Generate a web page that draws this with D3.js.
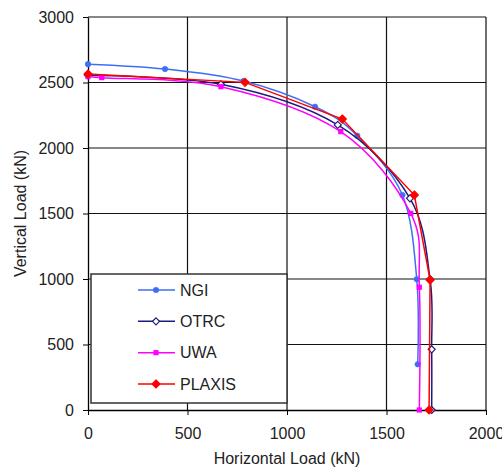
<!DOCTYPE html>
<html>
<head>
<meta charset="utf-8">
<script src="https://cdn.jsdelivr.net/npm/d3@7"></script>
<style>
  html, body { margin: 0; padding: 0; background: #fff; }
  svg { display: block; font-family: "Liberation Sans", Arial, sans-serif; }
</style>
</head>
<body>
<svg id="chart" width="502" height="467"></svg>
<script>
// ---- data ----
const seriesNames = ["NGI", "OTRC", "UWA", "PLAXIS"];
const ngiH  = [0, 387, 781, 1141, 1353, 1580, 1652, 1657];
const ngiV  = [2640, 2603, 2511, 2315, 2094, 1641, 998, 349];
const otrcH = [0, 668, 1255, 1618, 1719, 1727, 1727];
const otrcV = [2555, 2486, 2176, 1616, 998, 463, 0];
const uwaH  = [0, 69, 668, 1270, 1622, 1665, 1665];
const uwaV  = [2545, 2537, 2468, 2125, 1501, 937, 0];
const plaxisH = [0, 789, 1278, 1640, 1719, 1714];
const plaxisV = [2565, 2501, 2221, 1641, 992, 0];
const xTicks = [0, 500, 1000, 1500, 2000];
const yTicks = [0, 500, 1000, 1500, 2000, 2500, 3000];
const xTitle = "Horizontal Load (kN)";
const yTitle = "Vertical Load (kN)";

// ---- styles ----
const styles = {
  NGI:    { color: "#3d6ef5", marker: "circle",  fill: true,  smooth: true },
  OTRC:   { color: "#1c1c7e", marker: "diamond", fill: false, smooth: true },
  UWA:    { color: "#ff00ff", marker: "square",  fill: true,  smooth: true },
  PLAXIS: { color: "#ff0000", marker: "diamond", fill: true,  smooth: false }
};
const seriesData = {
  NGI: ngiH.map((h, i) => ({ h, v: ngiV[i] })),
  OTRC: otrcH.map((h, i) => ({ h, v: otrcV[i] })),
  UWA: uwaH.map((h, i) => ({ h, v: uwaV[i] })),
  PLAXIS: plaxisH.map((h, i) => ({ h, v: plaxisV[i] }))
};

const svg = d3.select("#chart");
const L = 88, R = 486, T = 17, B = 410;
const x = d3.scaleLinear().domain([0, 2000]).range([L, R]);
const y = d3.scaleLinear().domain([0, 3000]).range([B, T]);

// gridlines
const grid = svg.append("g");
grid.selectAll("line.v").data(xTicks.filter(d => d > 0)).join("line")
  .attr("x1", d => x(d)).attr("x2", d => x(d)).attr("y1", T).attr("y2", B)
  .attr("stroke", "#111").attr("stroke-width", 1.2);
grid.selectAll("line.h").data(yTicks.filter(d => d > 0)).join("line")
  .attr("x1", L).attr("x2", R).attr("y1", d => y(d)).attr("y2", d => y(d))
  .attr("stroke", "#111").attr("stroke-width", 1.2);

// axes
const fmt = d3.format("d");
const xAxis = d3.axisBottom(x).tickValues(xTicks).tickFormat(fmt).tickSize(5).tickSizeOuter(0).tickPadding(13);
const yAxis = d3.axisLeft(y).tickValues(yTicks).tickFormat(fmt).tickSize(5).tickSizeOuter(0).tickPadding(9);
const gx = svg.append("g").attr("transform", `translate(0,${B})`).call(xAxis);
const gy = svg.append("g").attr("transform", `translate(${L},0)`).call(yAxis);
[gx, gy].forEach(g => {
  g.select(".domain").attr("stroke", "#000").attr("stroke-width", 1.3);
  g.selectAll(".tick line").attr("stroke", "#000").attr("stroke-width", 1);
  g.selectAll(".tick text").attr("font-size", 16).attr("fill", "#222")
    .attr("font-family", "Liberation Sans, Arial, sans-serif");
});

// titles
svg.append("text").attr("x", (L + R) / 2).attr("y", 464)
  .attr("text-anchor", "middle").attr("font-size", 16).attr("fill", "#222").text(xTitle);
svg.append("text").attr("transform", `translate(26,${(T + B) / 2}) rotate(-90)`)
  .attr("text-anchor", "middle").attr("font-size", 16).attr("fill", "#222").text(yTitle);

// marker drawing
function drawMarker(g, st, cx, cy) {
  if (st.marker === "circle") {
    g.append("circle").attr("cx", cx).attr("cy", cy).attr("r", 2.8)
      .attr("fill", st.color).attr("stroke", st.color).attr("stroke-width", 0.5);
  } else if (st.marker === "square") {
    g.append("rect").attr("x", cx - 2.6).attr("y", cy - 2.6).attr("width", 5.2).attr("height", 5.2)
      .attr("fill", st.color);
  } else {
    const s = st.fill ? 4 : 3.5;
    g.append("path").attr("d", `M${cx},${cy - s}L${cx + s},${cy}L${cx},${cy + s}L${cx - s},${cy}Z`)
      .attr("fill", st.fill ? st.color : "#fff").attr("stroke", st.color).attr("stroke-width", 1.2);
  }
}

// series
seriesNames.forEach(name => {
  const st = styles[name];
  const data = seriesData[name];
  const line = d3.line().x(d => x(d.h)).y(d => y(d.v))
    .curve(st.smooth ? d3.curveCardinal.tension(0) : d3.curveLinear);
  const g = svg.append("g");
  g.append("path").datum(data).attr("d", line)
    .attr("fill", "none").attr("stroke", st.color).attr("stroke-width", 1.5);
  data.forEach(d => drawMarker(g, st, x(d.h), y(d.v)));
});

// legend
const lg = svg.append("g");
lg.append("rect").attr("x", 91).attr("y", 274).attr("width", 196).attr("height", 129)
  .attr("fill", "#fff").attr("stroke", "#333").attr("stroke-width", 1.5);
const legY = d3.scalePoint().domain(seriesNames).range([290, 384]);
seriesNames.forEach(name => {
  const st = styles[name];
  const yy = legY(name);
  lg.append("line").attr("x1", 138).attr("x2", 175).attr("y1", yy).attr("y2", yy)
    .attr("stroke", st.color).attr("stroke-width", 1.5);
  drawMarker(lg, st, 156, yy);
  lg.append("text").attr("x", 180).attr("y", yy).attr("dy", "0.36em")
    .attr("font-size", 16).attr("fill", "#222").text(name);
});
</script>
</body>
</html>
